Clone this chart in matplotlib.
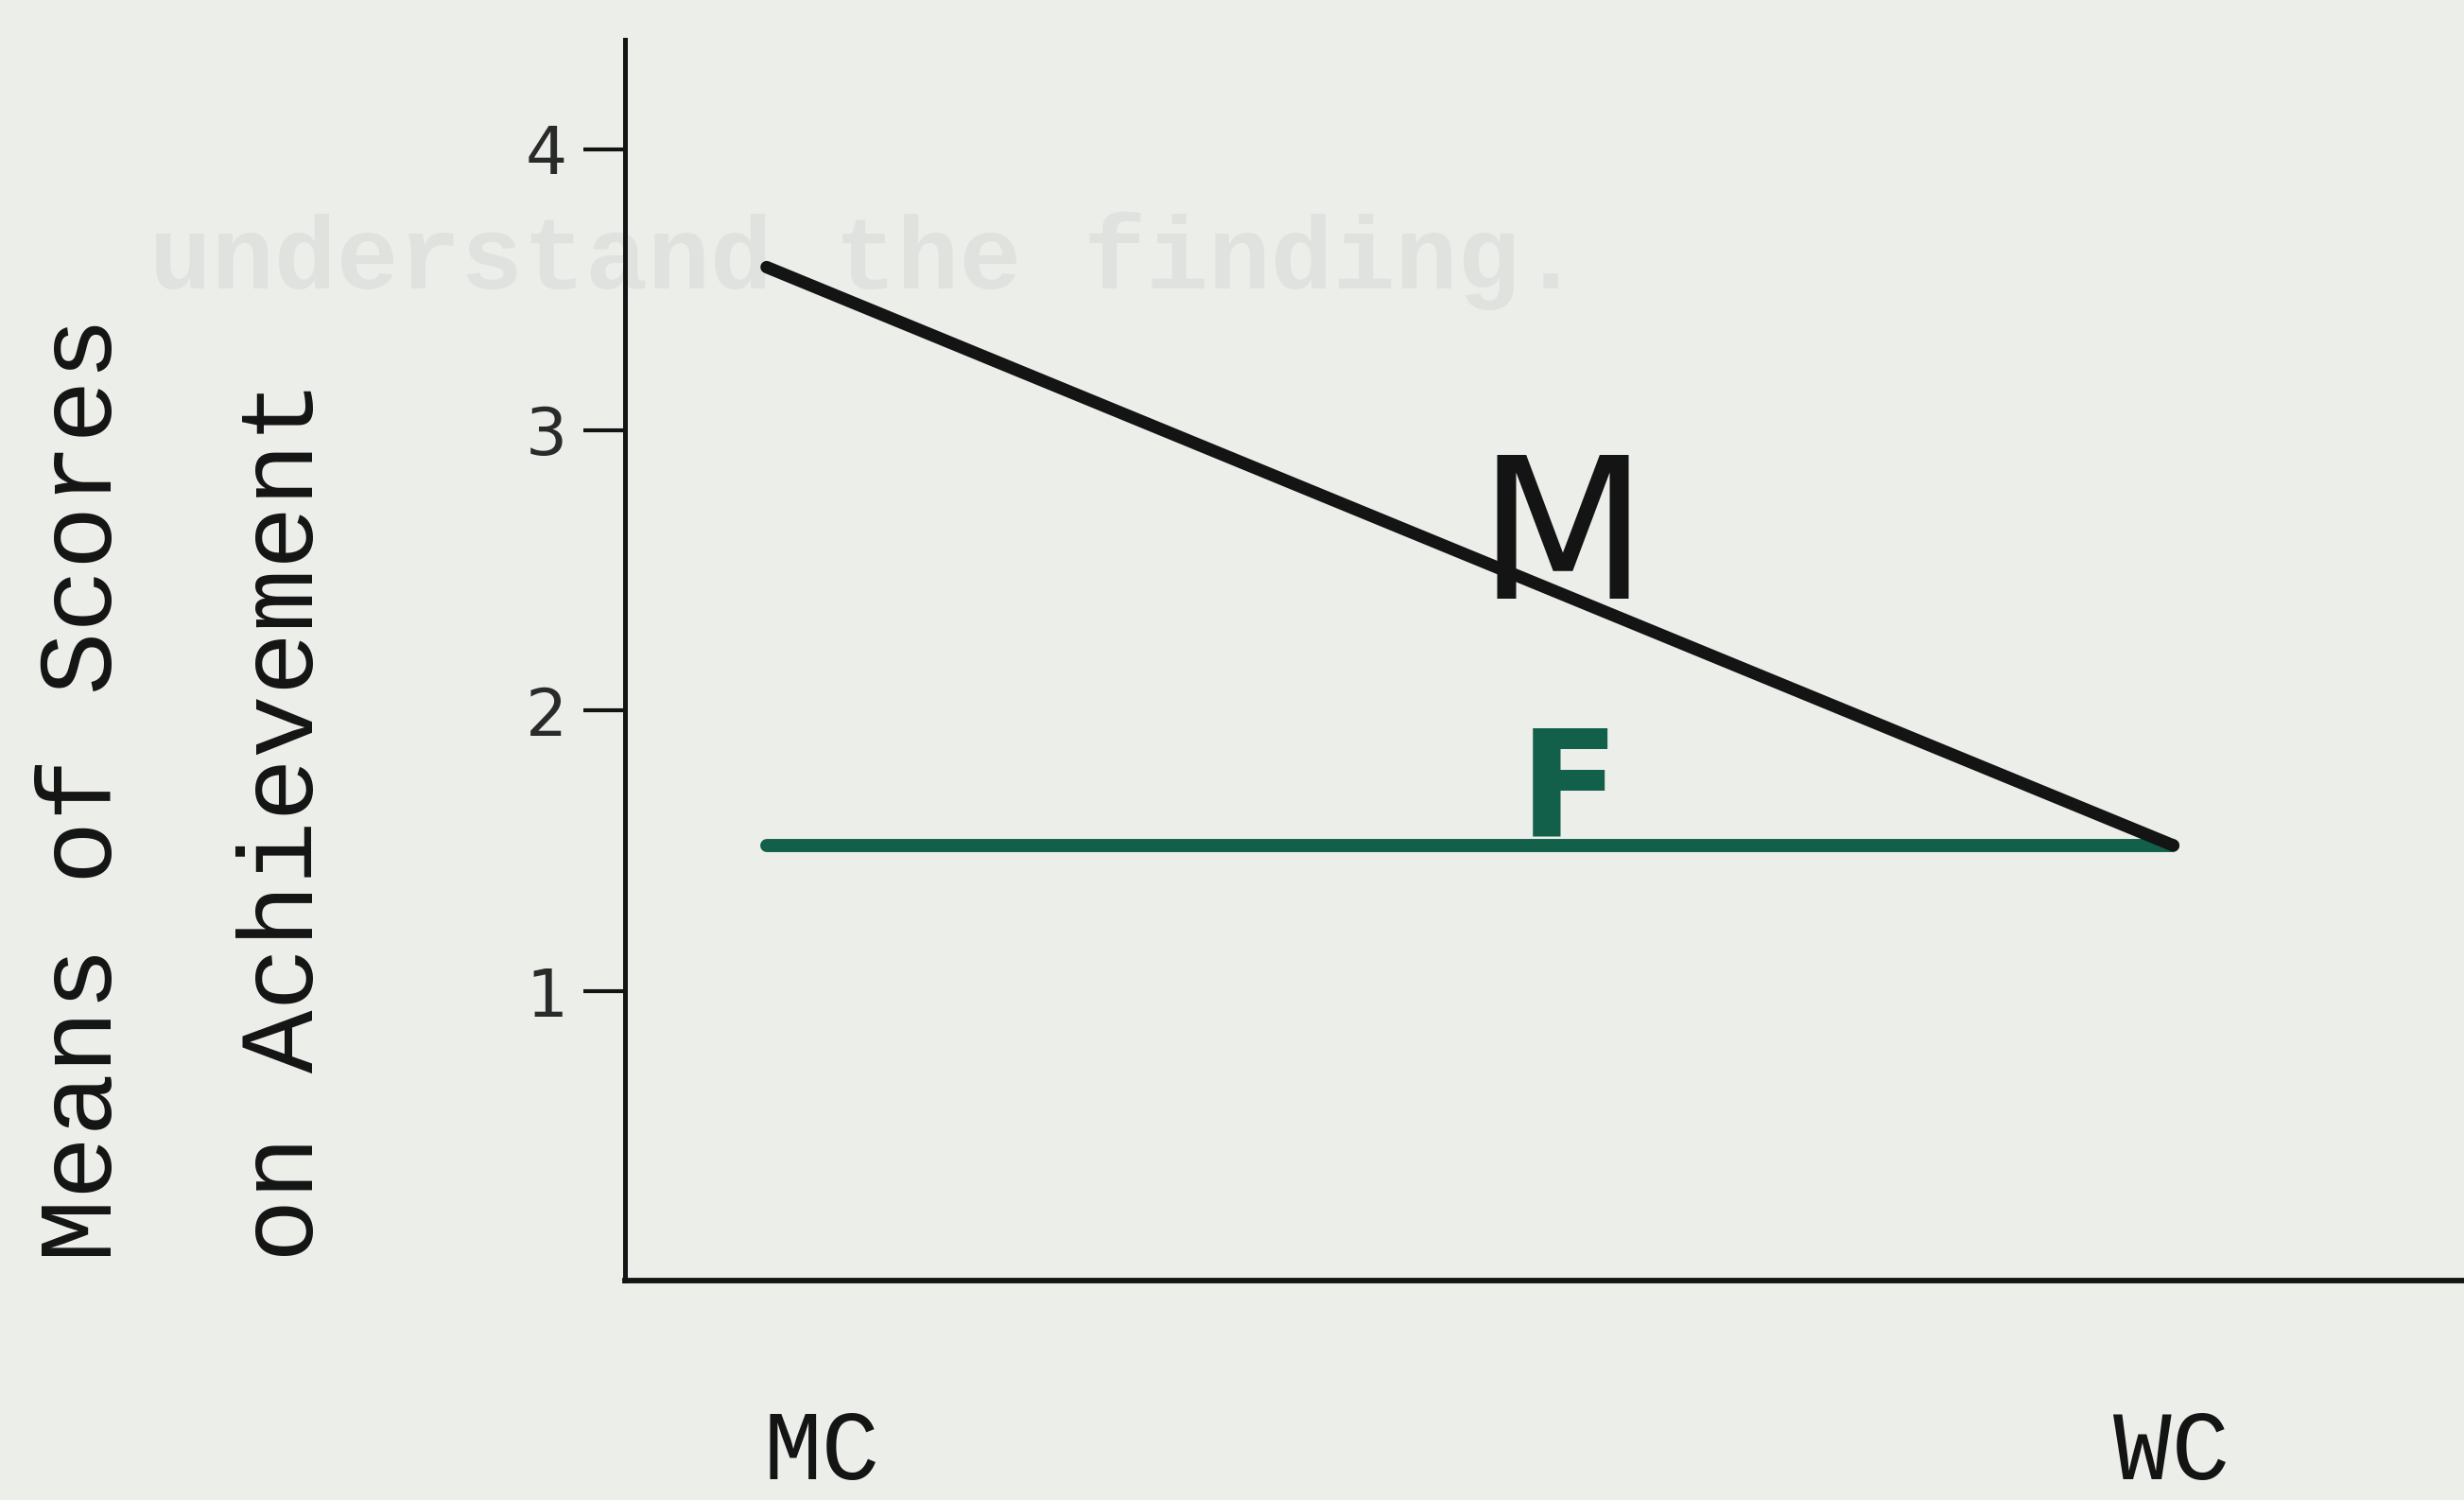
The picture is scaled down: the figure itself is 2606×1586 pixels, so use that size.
import matplotlib
matplotlib.use("Agg")
import matplotlib.pyplot as plt
from matplotlib.transforms import ScaledTranslation

# ---- data ----
classes = ["MC", "WC"]
male_means = [3.58, 1.52]
female_means = [1.52, 1.52]
ytick_values = [1, 2, 3, 4]
ytick_labels = ["1", "2", "3", "4"]
series_labels = ["M", "F"]
ylabel_lines = ["Means of Scores", "on Achievement"]

BG = "#eceeea"
GHOST = "#dfe2de"
INK = "#141414"
GREEN = "#12604a"

fig = plt.figure(figsize=(26.06, 15.86), dpi=100)
fig.patch.set_facecolor(BG)

# faint bleed-through text from the other side of the scanned page
fig.text(0.0606, 0.826, "understand the finding.", family="Liberation Mono",
         fontsize=79, fontweight="bold", color=GHOST, ha="left", va="center",
         zorder=-5)

ax = fig.add_axes([0.2537, 0.1463, 0.7463, 0.8272])
ax.set_facecolor("none")
ax.set_zorder(2)

x = list(range(len(classes)))
ax.plot(x, male_means, color=INK, lw=9.5, solid_capstyle="round", zorder=3)
ax.plot(x, female_means, color=GREEN, lw=10, solid_capstyle="round", zorder=2)

ax.set_xlim(-0.1006, 1.2067)
ax.set_ylim(-0.03, 4.39)

# series labels (hand-written letters)
ax.text(0.566, 2.40, series_labels[0], color=INK, fontsize=150,
        family="DejaVu Sans", ha="center", va="baseline", zorder=4)
ax.text(0.571, female_means[0] + 0.03, series_labels[1], color=GREEN,
        fontsize=112, family="DejaVu Sans", ha="center", va="baseline",
        fontweight="bold", zorder=4)

# axes styling
for side in ("top", "right"):
    ax.spines[side].set_visible(False)
ax.spines["left"].set_linewidth(3.6)
ax.spines["bottom"].set_linewidth(4.2)
ax.spines["left"].set_color(INK)
ax.spines["bottom"].set_color(INK)

ax.set_yticks(ytick_values)
ax.set_yticklabels(ytick_labels, family="DejaVu Sans", fontsize=50, color="#2a2a2a")
ax.tick_params(axis="y", length=32, width=3, color=INK, pad=12, direction="out")

ax.set_xticks(x)
ax.set_xticklabels(classes, family="Liberation Mono", fontsize=74, color=INK)
ax.tick_params(axis="x", length=0, pad=97)
label_shifts = [0.58, -0.02]
for lab, dx in zip(ax.get_xticklabels(), label_shifts):
    lab.set_transform(lab.get_transform() + ScaledTranslation(dx, 0, fig.dpi_scale_trans))

# rotated y-axis title, two lines
fig.text(0.034, 0.474, ylabel_lines[0], rotation=90, family="Liberation Mono",
         fontsize=80, color=INK, ha="center", va="center")
fig.text(0.116, 0.453, ylabel_lines[1], rotation=90, family="Liberation Mono",
         fontsize=80, color=INK, ha="center", va="center")

fig.savefig("out.png", dpi=100, facecolor=BG)
